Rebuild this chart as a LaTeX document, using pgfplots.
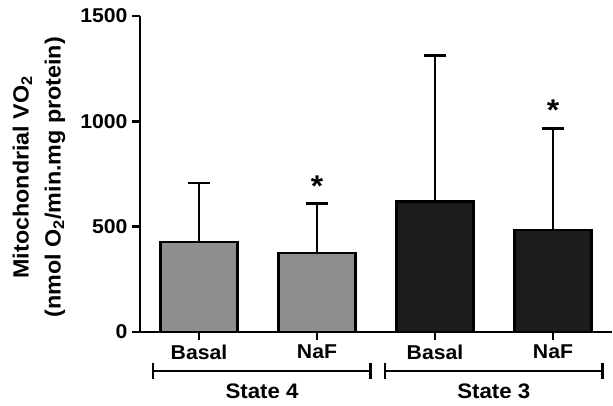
\documentclass[border=0pt]{standalone}
\usepackage{fontspec}
\setmainfont{Liberation Sans}[FakeStretch=1.06]
\usepackage{pgfplots}
\pgfplotsset{compat=1.18}
\definecolor{barGray}{HTML}{8E8E8E}
\definecolor{barDark}{HTML}{1C1C1C}
\pgfplotstableread{
x y err
0 427 280
1 375 234
}\stateFour
\pgfplotstableread{
x y err
2 620 693
3 484 483
}\stateThree
\begin{document}
\begin{tikzpicture}[x=1pt,y=1pt]
\path[use as bounding box] (0,0) rectangle (613,406);
\begin{axis}[
  at={(140pt,74pt)}, anchor=south west,
  scale only axis, width=472pt, height=316pt,
  xmin=-0.5, xmax=3.5, ymin=0, ymax=1500,
  axis lines*=left,
  axis line style={line width=2.5pt, black},
  tick align=outside,
  major tick length=8pt,
  tick style={line width=2.5pt, black},
  xtick={0,1,2,3},
  xticklabels={Basal,NaF,Basal,NaF},
  ytick={0,500,1000,1500},
  /pgf/number format/assume math mode=true,
  /pgf/number format/set thousands separator={},
  ticklabel style={font=\bfseries\fontsize{20}{22}\selectfont},
  xticklabel style={yshift=-1pt},
  yticklabel style={xshift=-1pt},
  ylabel={Mitochondrial VO\textsubscript{2}\\(nmol O\textsubscript{2}/min.mg protein)},
  ylabel style={align=center, font=\bfseries\fontsize{22}{32}\selectfont,
    at={(axis description cs:-0.214,0.49)}, anchor=center},
  clip=false,
]
\addplot[ybar, bar width=77pt, bar shift=0pt, fill=barGray, draw=black, line width=2.5pt,
  error bars/.cd, y dir=plus, y explicit,
  error bar style={line width=2.5pt, black},
  error mark options={rotate=90, mark size=11pt, line width=2.5pt, black}]
  table[x=x, y=y, y error=err] {\stateFour};
\addplot[ybar, bar width=77pt, bar shift=0pt, fill=barDark, draw=black, line width=2.5pt,
  error bars/.cd, y dir=plus, y explicit,
  error bar style={line width=2.5pt, black},
  error mark options={rotate=90, mark size=11pt, line width=2.5pt, black}]
  table[x=x, y=y, y error=err] {\stateThree};
% asterisks
\node[anchor=base, font=\bfseries\fontsize{30}{30}\selectfont] at (axis cs:1,641) {*};
\node[anchor=base, font=\bfseries\fontsize{30}{30}\selectfont] at (axis cs:3,1002) {*};
% brackets
\draw[line width=2.5pt] (axis cs:-0.39,-185) -- (axis cs:1.455,-185);
\draw[line width=2.5pt] (axis cs:-0.39,-145) -- (axis cs:-0.39,-225);
\draw[line width=2.5pt] (axis cs:1.455,-145) -- (axis cs:1.455,-225);
\draw[line width=2.5pt] (axis cs:1.576,-185) -- (axis cs:3.42,-185);
\draw[line width=2.5pt] (axis cs:1.576,-145) -- (axis cs:1.576,-225);
\draw[line width=2.5pt] (axis cs:3.42,-145) -- (axis cs:3.42,-225);
\node[font=\bfseries\fontsize{21}{24}\selectfont] at (axis cs:0.534,-280) {State 4};
\node[font=\bfseries\fontsize{21}{24}\selectfont] at (axis cs:2.498,-280) {State 3};
\end{axis}
\end{tikzpicture}
\end{document}
